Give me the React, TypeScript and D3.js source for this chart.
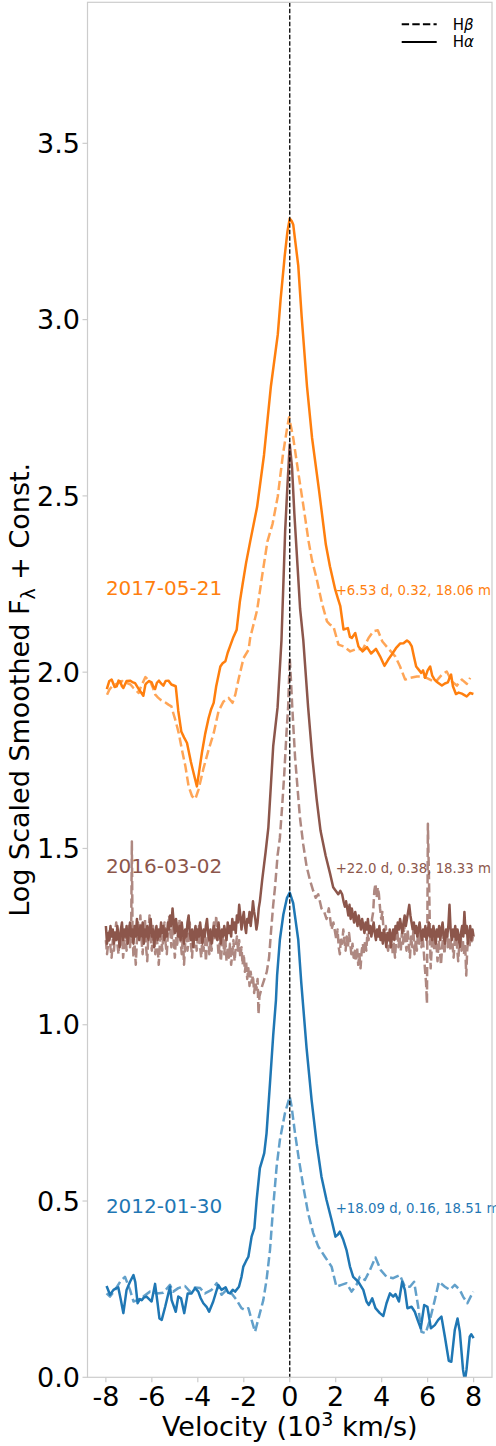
import React from "react";
import * as d3 from "d3";

// ---- data: [velocity (10^3 km/s), log scaled smoothed flux + const] ----
const ha2017: [number, number][] = [
  [-7.96,1.952],[-7.85,1.975],[-7.75,1.979],[-7.62,1.958],[-7.53,1.960],[-7.45,1.976],[-7.38,1.974],[-7.3,1.960],[-7.24,1.955],
  [-7.1,1.975],[-6.95,1.976],[-6.85,1.972],[-6.73,1.969],[-6.55,1.950],[-6.37,1.933],[-6.28,1.965],[-6.23,1.969],[-6.12,1.975],
  [-6.01,1.971],[-5.93,1.958],[-5.86,1.952],[-5.78,1.970],[-5.69,1.976],[-5.6,1.968],[-5.5,1.962],[-5.4,1.975],[-5.28,1.976],
  [-5.15,1.965],[-4.96,1.960],[-4.85,1.890],[-4.72,1.832],[-4.6,1.815],[-4.47,1.799],[-4.3,1.745],[-4.15,1.705],[-4.04,1.676],
  [-3.95,1.715],[-3.82,1.772],[-3.68,1.825],[-3.53,1.870],[-3.42,1.895],[-3.31,1.913],[-3.2,1.960],[-3.02,2.016],[-2.92,2.025],
  [-2.80,2.031],[-2.7,2.055],[-2.60,2.073],[-2.45,2.100],[-2.31,2.120],[-2.17,2.200],[-2.05,2.250],[-1.90,2.310],[-1.72,2.371],
  [-1.42,2.469],[-1.12,2.616],[-0.82,2.811],[-0.52,2.958],[-0.40,3.056],[-0.22,3.180],[-0.1,3.250],[0.0,3.287],[0.08,3.280],
  [0.15,3.270],[0.37,3.153],[0.52,3.007],[0.75,2.811],[0.97,2.665],[1.27,2.518],[1.57,2.362],[1.75,2.300],[1.98,2.234],
  [2.09,2.210],[2.20,2.187],[2.34,2.121],[2.53,2.125],[2.62,2.100],[2.70,2.097],[2.85,2.111],[2.99,2.073],[3.17,2.059],
  [3.36,2.071],[3.54,2.053],[3.75,2.066],[3.93,2.045],[4.12,2.018],[4.28,2.035],[4.44,2.050],[4.62,2.068],[4.80,2.081],
  [4.95,2.082],[5.10,2.090],[5.20,2.085],[5.31,2.073],[5.40,2.045],[5.50,2.016],[5.60,2.008],[5.72,1.998],[5.80,2.005],
  [5.89,1.984],[6.0,2.005],[6.11,2.016],[6.20,1.990],[6.30,1.979],[6.45,1.970],[6.62,1.962],[6.75,1.968],[6.88,1.971],
  [6.96,1.985],[7.02,1.993],[7.10,1.960],[7.23,1.938],[7.35,1.942],[7.49,1.939],[7.60,1.935],[7.70,1.931],[7.85,1.941],[7.99,1.938],
];

const hb2017: [number, number][] = [
  [-7.95,1.936],[-7.85,1.950],[-7.73,1.960],[-7.6,1.965],[-7.44,1.969],[-7.3,1.975],[-7.18,1.974],[-7.05,1.968],[-6.93,1.965],
  [-6.8,1.955],[-6.72,1.950],[-6.57,1.941],[-6.5,1.955],[-6.43,1.965],[-6.28,1.986],[-6.18,1.980],[-6.07,1.974],[-5.95,1.955],
  [-5.85,1.936],[-5.73,1.928],[-5.63,1.922],[-5.41,1.914],[-5.28,1.908],[-5.15,1.903],[-5.05,1.880],[-4.98,1.865],[-4.83,1.827],
  [-4.69,1.780],[-4.54,1.733],[-4.40,1.676],[-4.25,1.648],[-4.11,1.640],[-3.97,1.667],[-3.85,1.700],[-3.75,1.728],[-3.53,1.780],
  [-3.31,1.827],[-3.10,1.889],[-2.88,1.917],[-2.66,1.927],[-2.49,1.913],[-2.37,1.936],[-2.23,1.979],[-2.01,2.040],[-1.79,2.064],
  [-1.72,2.098],[-1.42,2.176],[-1.20,2.274],[-0.97,2.371],[-0.75,2.420],[-0.52,2.499],[-0.30,2.616],[-0.12,2.690],[-0.03,2.723],
  [0.15,2.665],[0.37,2.567],[0.60,2.469],[0.82,2.371],[0.96,2.320],[1.18,2.262],[1.40,2.196],[1.62,2.144],[1.75,2.135],
  [1.90,2.130],[2.12,2.078],[2.34,2.073],[2.63,2.059],[2.92,2.066],[3.17,2.064],[3.30,2.080],[3.43,2.097],[3.64,2.116],
  [3.83,2.119],[4.03,2.087],[4.30,2.066],[4.59,2.045],[4.80,2.016],[5.02,1.979],[5.24,1.984],[5.53,1.988],[5.82,1.988],
  [6.04,1.981],[6.33,1.971],[6.62,1.993],[6.83,2.002],[7.05,1.974],[7.27,1.962],[7.49,1.979],[7.70,1.967],[7.85,1.984],
];

const ha2016: [number, number][] = [
  [-8.00,1.28],[-7.95,1.23],[-7.90,1.26],[-7.85,1.24],[-7.80,1.28],[-7.75,1.25],[-7.70,1.27],[-7.65,1.23],[-7.60,1.26],[-7.55,1.24],
  [-7.50,1.28],[-7.45,1.25],[-7.40,1.22],[-7.35,1.27],[-7.30,1.29],[-7.25,1.24],[-7.20,1.27],[-7.15,1.25],[-7.10,1.28],[-7.05,1.23],
  [-7.00,1.26],[-6.95,1.29],[-6.90,1.25],[-6.85,1.27],[-6.80,1.23],[-6.75,1.28],[-6.70,1.25],[-6.65,1.30],[-6.60,1.26],[-6.55,1.24],
  [-6.50,1.28],[-6.45,1.25],[-6.40,1.29],[-6.35,1.23],[-6.30,1.27],[-6.25,1.25],[-6.20,1.28],[-6.15,1.24],[-6.10,1.27],[-6.05,1.30],
  [-6.00,1.25],[-5.95,1.27],[-5.90,1.22],[-5.85,1.26],[-5.80,1.28],[-5.75,1.24],[-5.70,1.27],[-5.65,1.25],[-5.60,1.29],[-5.55,1.26],
  [-5.50,1.28],[-5.45,1.24],[-5.40,1.27],[-5.35,1.25],[-5.30,1.29],[-5.25,1.27],[-5.20,1.31],[-5.15,1.28],[-5.10,1.33],[-5.05,1.29],
  [-5.00,1.26],[-4.95,1.30],[-4.90,1.27],[-4.85,1.25],[-4.80,1.28],[-4.75,1.24],[-4.70,1.29],[-4.65,1.26],[-4.60,1.23],[-4.55,1.27],
  [-4.50,1.25],[-4.45,1.29],[-4.40,1.31],[-4.35,1.26],[-4.30,1.24],[-4.25,1.27],[-4.20,1.22],[-4.15,1.26],[-4.10,1.28],[-4.05,1.24],
  [-4.00,1.27],[-3.95,1.25],[-3.90,1.29],[-3.85,1.26],[-3.80,1.23],[-3.75,1.27],[-3.70,1.25],[-3.65,1.28],[-3.60,1.30],[-3.55,1.26],
  [-3.50,1.24],[-3.45,1.27],[-3.40,1.23],[-3.35,1.26],[-3.30,1.28],[-3.25,1.25],[-3.20,1.27],[-3.15,1.24],[-3.10,1.29],[-3.05,1.26],
  [-3.00,1.23],[-2.95,1.27],[-2.90,1.25],[-2.85,1.28],[-2.80,1.26],[-2.75,1.24],[-2.70,1.29],[-2.65,1.26],[-2.60,1.28],[-2.55,1.25],
  [-2.50,1.30],[-2.45,1.27],[-2.40,1.29],[-2.35,1.26],[-2.30,1.31],[-2.25,1.29],[-2.20,1.34],[-2.15,1.31],[-2.10,1.27],[-2.05,1.30],
  [-2.00,1.32],[-1.95,1.28],[-1.90,1.26],[-1.85,1.30],[-1.80,1.29],[-1.75,1.32],[-1.70,1.28],[-1.65,1.31],[-1.60,1.35],[-1.55,1.32],
  [-1.50,1.30],[-1.45,1.27],[-1.40,1.29],[-1.35,1.33],[-1.3,1.35],
  [-1.2,1.41],[-1.05,1.49],[-0.93,1.56],[-0.82,1.68],[-0.72,1.79],[-0.53,1.90],[-0.36,2.09],[-0.2,2.40],[-0.1,2.53],
  [0.0,2.646],[0.1,2.58],[0.2,2.45],[0.34,2.30],[0.45,2.18],[0.59,2.09],[0.8,1.90],[0.98,1.76],[1.17,1.64],[1.34,1.55],
  [1.56,1.48],[1.75,1.43],[1.89,1.39],[2.0,1.38],[2.11,1.37],[2.20,1.38],[2.28,1.37],[2.34,1.35],
  [2.40,1.335],[2.45,1.35],[2.50,1.33],[2.55,1.31],[2.60,1.34],[2.65,1.30],[2.70,1.33],[2.75,1.31],[2.80,1.29],[2.85,1.32],
  [2.90,1.30],[2.95,1.28],[3.00,1.31],[3.05,1.29],[3.10,1.27],[3.15,1.30],[3.20,1.28],[3.25,1.26],[3.30,1.29],[3.35,1.27],
  [3.40,1.30],[3.45,1.26],[3.50,1.28],[3.55,1.25],[3.60,1.27],[3.65,1.29],[3.70,1.26],[3.75,1.24],[3.80,1.27],[3.85,1.25],
  [3.90,1.28],[3.95,1.24],[4.00,1.26],[4.05,1.23],[4.10,1.27],[4.15,1.25],[4.20,1.22],[4.25,1.26],[4.30,1.24],[4.35,1.27],
  [4.40,1.22],[4.45,1.25],[4.50,1.27],[4.55,1.24],[4.60,1.28],[4.65,1.26],[4.70,1.29],[4.75,1.27],[4.80,1.30],[4.85,1.28],
  [4.90,1.26],[4.95,1.29],[5.00,1.31],[5.05,1.28],[5.10,1.30],[5.15,1.32],[5.20,1.34],[5.25,1.31],[5.30,1.29],[5.35,1.27],
  [5.40,1.29],[5.45,1.26],[5.50,1.28],[5.55,1.25],[5.60,1.27],[5.65,1.29],[5.70,1.26],[5.75,1.24],[5.80,1.27],[5.85,1.25],
  [5.90,1.28],[5.95,1.24],[6.00,1.26],[6.05,1.29],[6.10,1.25],[6.15,1.27],[6.20,1.24],[6.25,1.28],[6.30,1.26],[6.35,1.23],
  [6.40,1.27],[6.45,1.25],[6.50,1.28],[6.55,1.24],[6.60,1.27],[6.65,1.29],[6.70,1.25],[6.75,1.23],[6.80,1.27],[6.85,1.25],
  [6.90,1.28],[6.95,1.34],[7.00,1.27],[7.05,1.24],[7.10,1.27],[7.15,1.25],[7.20,1.28],[7.25,1.24],[7.30,1.27],[7.35,1.25],
  [7.40,1.22],[7.45,1.26],[7.50,1.28],[7.55,1.25],[7.60,1.32],[7.65,1.26],[7.70,1.28],[7.75,1.23],[7.80,1.26],[7.85,1.28],
  [7.90,1.24],[7.95,1.27],[8.00,1.25],
];

const hb2016: [number, number][] = [
  [-8.00,1.24],[-7.95,1.20],[-7.90,1.23],[-7.85,1.27],[-7.80,1.22],[-7.75,1.19],[-7.70,1.24],[-7.65,1.21],[-7.60,1.26],[-7.55,1.29],
  [-7.50,1.23],[-7.45,1.20],[-7.40,1.25],[-7.35,1.22],[-7.30,1.27],[-7.25,1.19],[-7.20,1.23],[-7.15,1.26],[-7.10,1.21],[-7.05,1.25],
  [-7.00,1.28],[-6.95,1.22],[-6.90,1.26],[-6.87,1.52],[-6.84,1.26],[-6.80,1.19],[-6.75,1.23],[-6.70,1.17],[-6.65,1.24],[-6.60,1.29],
  [-6.55,1.25],[-6.50,1.31],[-6.45,1.24],[-6.40,1.20],[-6.35,1.27],[-6.30,1.30],[-6.25,1.22],[-6.20,1.18],[-6.15,1.26],[-6.10,1.31],
  [-6.05,1.25],[-6.00,1.21],[-5.95,1.28],[-5.90,1.24],[-5.85,1.20],[-5.80,1.26],[-5.75,1.22],[-5.70,1.17],[-5.65,1.23],[-5.60,1.27],
  [-5.55,1.21],[-5.50,1.25],[-5.45,1.29],[-5.40,1.23],[-5.35,1.20],[-5.30,1.26],[-5.25,1.31],[-5.20,1.27],[-5.15,1.22],[-5.10,1.28],
  [-5.05,1.24],[-5.00,1.19],[-4.95,1.25],[-4.90,1.22],[-4.85,1.28],[-4.80,1.30],[-4.75,1.24],[-4.70,1.20],[-4.65,1.25],[-4.60,1.17],
  [-4.55,1.23],[-4.50,1.27],[-4.45,1.21],[-4.40,1.24],[-4.35,1.29],[-4.30,1.23],[-4.25,1.19],[-4.20,1.25],[-4.15,1.22],[-4.10,1.27],
  [-4.05,1.21],[-4.00,1.24],[-3.95,1.28],[-3.90,1.22],[-3.85,1.19],[-3.80,1.25],[-3.75,1.21],[-3.70,1.26],[-3.65,1.18],[-3.60,1.23],
  [-3.55,1.26],[-3.50,1.20],[-3.45,1.24],[-3.40,1.21],[-3.35,1.26],[-3.30,1.29],[-3.25,1.24],[-3.20,1.31],[-3.15,1.25],[-3.10,1.20],
  [-3.05,1.23],[-3.00,1.18],[-2.95,1.22],[-2.90,1.25],[-2.85,1.20],[-2.80,1.24],[-2.75,1.18],[-2.70,1.22],[-2.65,1.19],[-2.60,1.23],
  [-2.55,1.17],[-2.50,1.20],[-2.45,1.24],[-2.40,1.18],[-2.35,1.22],[-2.30,1.25],[-2.25,1.21],[-2.20,1.24],[-2.15,1.19],[-2.10,1.22],
  [-2.05,1.17],[-2.00,1.20],[-1.95,1.15],[-1.90,1.18],[-1.85,1.13],[-1.80,1.16],[-1.75,1.11],[-1.70,1.15],[-1.65,1.12],[-1.60,1.14],
  [-1.55,1.09],[-1.50,1.12],[-1.45,1.10],[-1.40,1.13],[-1.36,1.03],[-1.32,1.08],
  [-1.2,1.11],[-1.1,1.13],[-1.0,1.15],[-0.9,1.19],[-0.82,1.26],[-0.72,1.34],[-0.64,1.39],[-0.53,1.48],[-0.43,1.53],
  [-0.33,1.62],[-0.24,1.71],[-0.14,1.83],[-0.07,1.90],[0.0,2.04],[0.05,1.98],[0.11,1.90],[0.23,1.76],[0.34,1.67],[0.44,1.59],
  [0.59,1.51],[0.73,1.45],[0.88,1.41],[1.02,1.38],[1.13,1.36],[1.24,1.37],[1.38,1.33],[1.5,1.32],[1.6,1.30],[1.7,1.33],
  [1.82,1.27],[1.9,1.29],
  [2.03,1.24],[2.08,1.27],[2.13,1.22],[2.18,1.20],[2.23,1.25],[2.28,1.23],[2.33,1.27],[2.38,1.24],[2.43,1.21],[2.48,1.25],
  [2.53,1.22],[2.58,1.26],[2.63,1.23],[2.68,1.20],[2.73,1.23],[2.78,1.19],[2.83,1.21],[2.88,1.18],[2.93,1.22],[2.98,1.17],
  [3.03,1.20],[3.08,1.16],[3.13,1.21],[3.18,1.23],[3.23,1.20],[3.28,1.24],[3.33,1.21],[3.38,1.26],[3.43,1.24],[3.48,1.28],
  [3.53,1.26],[3.58,1.30],[3.63,1.32],[3.68,1.38],[3.73,1.40],[3.78,1.36],[3.83,1.39],[3.88,1.37],[3.93,1.33],[3.98,1.30],
  [4.03,1.32],[4.08,1.27],[4.13,1.25],[4.18,1.28],[4.23,1.23],[4.28,1.21],[4.33,1.25],[4.38,1.22],[4.43,1.26],[4.48,1.20],
  [4.53,1.23],[4.58,1.19],[4.63,1.24],[4.68,1.27],[4.73,1.22],[4.78,1.25],[4.83,1.21],[4.88,1.26],[4.93,1.23],[4.98,1.28],
  [5.03,1.24],[5.08,1.21],[5.13,1.27],[5.18,1.23],[5.23,1.19],[5.28,1.25],[5.33,1.22],[5.38,1.27],[5.43,1.20],[5.48,1.24],
  [5.53,1.21],[5.58,1.26],[5.63,1.23],[5.68,1.27],[5.73,1.22],[5.78,1.25],[5.83,1.21],[5.88,1.16],[5.93,1.12],[5.97,1.06],
  [6.01,1.57],[6.05,1.44],[6.09,1.30],[6.13,1.16],[6.18,1.22],[6.23,1.25],[6.28,1.21],[6.33,1.26],[6.38,1.23],[6.43,1.18],
  [6.48,1.24],[6.53,1.21],[6.58,1.17],[6.63,1.22],[6.68,1.26],[6.73,1.20],[6.78,1.24],[6.83,1.27],[6.88,1.22],[6.93,1.25],
  [6.98,1.21],[7.03,1.26],[7.08,1.23],[7.13,1.19],[7.18,1.24],[7.23,1.27],[7.28,1.22],[7.33,1.18],[7.38,1.23],[7.43,1.26],
  [7.48,1.21],[7.53,1.24],[7.58,1.20],[7.63,1.23],[7.68,1.14],[7.72,1.21],[7.77,1.25],[7.82,1.22],[7.87,1.26],[7.92,1.23],[7.97,1.25],
];

const ha2012: [number, number][] = [
  [-7.97,0.259],[-7.82,0.234],[-7.67,0.248],[-7.56,0.252],[-7.46,0.255],[-7.35,0.220],[-7.24,0.182],[-7.10,0.248],[-6.95,0.271],
  [-6.80,0.290],[-6.72,0.270],[-6.62,0.210],[-6.52,0.222],[-6.44,0.219],[-6.35,0.226],[-6.23,0.229],[-6.12,0.222],[-6.01,0.215],
  [-5.86,0.265],[-5.75,0.210],[-5.67,0.167],[-5.57,0.163],[-5.42,0.200],[-5.28,0.238],[-5.21,0.257],[-5.14,0.219],[-4.96,0.186],
  [-4.85,0.229],[-4.73,0.224],[-4.59,0.182],[-4.44,0.238],[-4.27,0.238],[-4.12,0.253],[-3.98,0.243],[-3.88,0.225],[-3.76,0.210],
  [-3.62,0.200],[-3.51,0.186],[-3.33,0.215],[-3.11,0.262],[-2.97,0.248],[-2.79,0.255],[-2.68,0.240],[-2.60,0.238],[-2.48,0.248],
  [-2.38,0.243],[-2.21,0.257],[-2.10,0.285],[-2.02,0.314],[-1.90,0.330],[-1.80,0.342],[-1.66,0.399],[-1.54,0.423],[-1.44,0.503],
  [-1.30,0.593],[-1.20,0.615],[-1.11,0.636],[-1.01,0.692],[-0.86,0.834],[-0.72,0.970],[-0.60,1.070],[-0.55,1.140],[-0.43,1.241],
  [-0.28,1.312],[-0.12,1.360],[0.0,1.375],[0.15,1.345],[0.37,1.241],[0.50,1.120],[0.60,1.040],[0.73,0.935],[0.95,0.787],
  [1.17,0.664],[1.38,0.569],[1.60,0.503],[1.82,0.446],[1.99,0.399],[2.10,0.405],[2.18,0.413],[2.33,0.390],[2.47,0.361],
  [2.62,0.314],[2.76,0.285],[2.98,0.271],[3.20,0.248],[3.34,0.215],[3.44,0.205],[3.59,0.224],[3.73,0.196],[3.92,0.182],
  [4.07,0.174],[4.21,0.210],[4.36,0.238],[4.50,0.229],[4.60,0.236],[4.75,0.215],[4.89,0.271],[5.01,0.248],[5.12,0.196],
  [5.30,0.200],[5.44,0.186],[5.59,0.158],[5.70,0.139],[5.85,0.205],[5.99,0.200],[6.14,0.139],[6.31,0.148],[6.46,0.163],
  [6.60,0.172],[6.75,0.115],[6.92,0.047],[7.03,0.044],[7.18,0.134],[7.30,0.167],[7.40,0.129],[7.54,0.021],[7.62,-0.010],
  [7.69,0.021],[7.83,0.115],[7.90,0.122],[8.00,0.111],
];

const hb2012: [number, number][] = [
  [-7.97,0.238],[-7.82,0.229],[-7.60,0.248],[-7.38,0.271],[-7.17,0.285],[-6.95,0.248],[-6.80,0.215],[-6.62,0.219],[-6.37,0.229],
  [-6.08,0.243],[-5.79,0.238],[-5.50,0.240],[-5.21,0.262],[-5.07,0.243],[-4.85,0.253],[-4.56,0.259],[-4.34,0.243],[-4.12,0.255],
  [-3.90,0.253],[-3.69,0.238],[-3.40,0.248],[-3.18,0.267],[-2.97,0.234],[-2.75,0.248],[-2.53,0.238],[-2.31,0.219],[-2.10,0.196],
  [-1.95,0.191],[-1.80,0.196],[-1.66,0.163],[-1.51,0.129],[-1.34,0.172],[-1.15,0.219],[-1.01,0.276],[-0.86,0.361],[-0.72,0.484],
  [-0.57,0.598],[-0.43,0.673],[-0.21,0.749],[0.0,0.796],[0.08,0.768],[0.23,0.692],[0.40,0.617],[0.59,0.541],[0.80,0.465],
  [1.02,0.409],[1.24,0.371],[1.53,0.342],[1.82,0.314],[2.03,0.257],[2.25,0.262],[2.47,0.267],[2.69,0.243],[2.90,0.262],
  [3.05,0.285],[3.27,0.276],[3.49,0.304],[3.73,0.340],[3.96,0.304],[4.21,0.285],[4.50,0.281],[4.79,0.290],[5.01,0.257],
  [5.23,0.257],[5.41,0.271],[5.59,0.200],[5.73,0.129],[5.91,0.125],[6.10,0.163],[6.31,0.219],[6.49,0.271],[6.75,0.257],
  [6.96,0.248],[7.18,0.262],[7.40,0.248],[7.54,0.229],[7.73,0.210],[7.98,0.243],
];

const xTicks = [-8, -6, -4, -2, 0, 2, 4, 6, 8];
const yTicks = [0, 0.5, 1.0, 1.5, 2.0, 2.5, 3.0, 3.5];

const epochs = [
  { date: "2017-05-21", info: "+6.53 d, 0.32, 18.06 m", color: "#ff7f0e", labelY: 2.22, ha: ha2017, hb: hb2017 },
  { date: "2016-03-02", info: "+22.0 d, 0.38, 18.33 m", color: "#8c564b", labelY: 1.43, ha: ha2016, hb: hb2016 },
  { date: "2012-01-30", info: "+18.09 d, 0.16, 18.51 m", color: "#1f77b4", labelY: 0.465, ha: ha2012, hb: hb2012 },
];

const W = 496;
const H = 1446;
const L = 87.5, R = 492, T = 2.3, B = 1377.3;
const FONT = "'DejaVu Sans', sans-serif";

export default function App() {
  const x = d3.scaleLinear().domain([-8.8, 8.8]).range([L, R]);
  const y = d3.scaleLinear().domain([0, 3.9]).range([B, T]);
  const line = d3.line<[number, number]>().x((d) => x(d[0])).y((d) => y(d[1]));
  const spine = "#cccccc";

  return (
    <svg
      width={W}
      height={H}
      style={{ position: "absolute", left: 0, top: 0, background: "#fff" }}
      fontFamily={FONT}
    >
      <defs>
        <clipPath id="plotclip">
          <rect x={L} y={T} width={R - L} height={B - T} />
        </clipPath>
      </defs>
      <rect x={0} y={0} width={W} height={H} fill="#fff" />

      {/* data lines */}
      <g clipPath="url(#plotclip)" fill="none" strokeLinejoin="round">
        {epochs.map((e) => (
          <g key={e.date}>
            <path d={line(e.hb) || ""} stroke={e.color} strokeOpacity={0.7} strokeWidth={2.5} strokeDasharray="9.25,4" />
            <path d={line(e.ha) || ""} stroke={e.color} strokeWidth={2.5} />
          </g>
        ))}
        <line x1={x(0)} x2={x(0)} y1={T} y2={B} stroke="#000" strokeWidth={1.3} strokeDasharray="4.5,2" />
      </g>

      {/* epoch labels */}
      {epochs.map((e) => (
        <g key={e.date + "lab"} fill={e.color}>
          <text x={x(-8)} y={y(e.labelY)} fontSize={20}>{e.date}</text>
          <text x={x(2)} y={y(e.labelY)} fontSize={13.3}>{e.info}</text>
        </g>
      ))}

      {/* spines */}
      <rect x={L} y={T} width={R - L} height={B - T} fill="none" stroke={spine} strokeWidth={1.2} />

      {/* x axis */}
      {xTicks.map((t) => (
        <g key={"x" + t}>
          <line x1={x(t)} x2={x(t)} y1={B} y2={B + 5} stroke={spine} strokeWidth={1.2} />
          <text x={x(t)} y={1406} textAnchor="middle" fontSize={27} fill="#000">{String(t)}</text>
        </g>
      ))}
      {/* y axis */}
      {yTicks.map((t) => (
        <g key={"y" + t}>
          <line x1={L - 5} x2={L} y1={y(t)} y2={y(t)} stroke={spine} strokeWidth={1.2} />
          <text x={80} y={y(t)} dy="0.36em" textAnchor="end" fontSize={27} fill="#000">{t.toFixed(1)}</text>
        </g>
      ))}

      <text x={(L + R) / 2} y={1436} textAnchor="middle" fontSize={27} fill="#000">
        Velocity (10<tspan dy={-10} fontSize={19}>3</tspan><tspan dy={10}> km/s)</tspan>
      </text>
      <text transform={`translate(29,${(T + B) / 2}) rotate(-90)`} textAnchor="middle" fontSize={27} fill="#000">
        Log Scaled Smoothed F<tspan dy={6} fontSize={19}>λ</tspan><tspan dy={-6}> + Const.</tspan>
      </text>

      {/* legend */}
      <g>
        <line x1={401.7} x2={436.7} y1={24.3} y2={24.3} stroke="#000" strokeWidth={2} strokeDasharray="7.4,3.2" />
        <text x={452.7} y={24.3} dy="0.36em" fontSize={15} fill="#000">H<tspan fontStyle="italic">β</tspan></text>
        <line x1={401.7} x2={436.7} y1={42} y2={42} stroke="#000" strokeWidth={2} />
        <text x={452.7} y={42} dy="0.36em" fontSize={15} fill="#000">H<tspan fontStyle="italic">α</tspan></text>
      </g>
    </svg>
  );
}
